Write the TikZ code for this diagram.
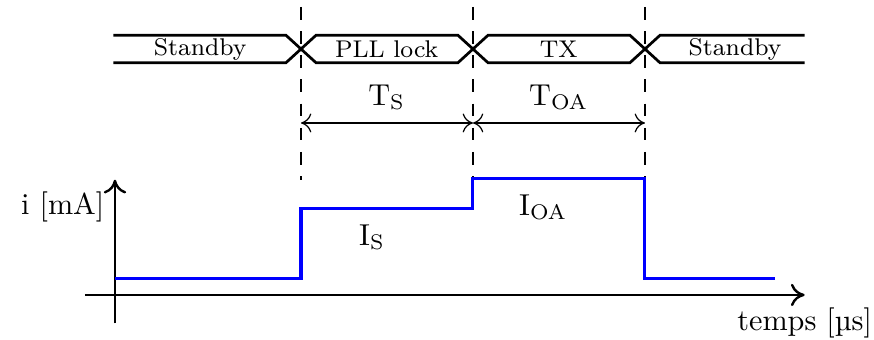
\documentclass[tikz,border=0pt]{standalone}
\usetikzlibrary{arrows.meta,positioning}

\begin{document}
\begin{tikzpicture}[
    axis/.style={thick, -{To[length=1.6mm,width=2.6mm]}},
    bus/.style={line width=0.9pt},
    marker/.style={thin, dash pattern=on 4.2pt off 3.8pt},
    dim/.style={thin, {To[length=1.2mm,width=2.2mm]}-{To[length=1.2mm,width=2.2mm]}},
    current/.style={blue, line width=1pt},
    state/.style={font=\footnotesize, inner sep=1pt}
]
\useasboundingbox (-1.337,-0.523) rectangle (8.826,3.430);

% instants
\coordinate (t1) at (2.163,0);
\coordinate (t2) at (4.163,0);
\coordinate (t3) at (6.163,0);

% bus of states
\draw[bus] (-0.02,3.02) -- (1.988,3.02) -- (2.338,2.70) -- (3.988,2.70) -- (4.338,3.02)
    -- (5.988,3.02) -- (6.338,2.70) -- (8.02,2.70);
\draw[bus] (-0.02,2.70) -- (1.988,2.70) -- (2.338,3.02) -- (3.988,3.02) -- (4.338,2.70)
    -- (5.988,2.70) -- (6.338,3.02) -- (8.02,3.02);
\node[state] (sb1) at (0.99,2.86) {Standby};
\node[state] (pll) at (3.16,2.86) {PLL lock};
\node[state] (tx) at (5.16,2.86) {TX};
\node[state] (sb2) at (7.21,2.86) {Standby};

% markers
\foreach \t in {t1,t2,t3}
    \draw[marker] (\t) ++(0,3.35) -- ++(0,-2.01);

% durations
\draw[dim] ([yshift=2cm]t1) -- ([yshift=2cm]t2);
\draw[dim] ([yshift=2cm]t2) -- ([yshift=2cm]t3);
\node (ts) at (3.16,2.30) {$\mathrm{T_S}$};
\node (toa) at (5.16,2.30) {$\mathrm{T_{OA}}$};

% axes
\draw[axis] (-0.35,0) -- (8.02,0) node[below, inner sep=4pt] (xlab) {temps [µs]};
\draw[axis] (0,-0.33) -- (0,1.34);
\node[left=0.0cm of {(0,1.02)}] (ylab) {i [mA]};

% current
\draw[current] (0,0.19) -- (t1 |- 0,0.19) -- ([yshift=1.01cm]t1) -- ([yshift=1.01cm]t2)
    -- ([yshift=1.35cm]t2) -- ([yshift=1.35cm]t3) -- ([yshift=0.19cm]t3) -- (7.67,0.19);
\node (is) at (2.99,0.67) {$\mathrm{I_S}$};
\node (ioa) at (4.98,1.02) {$\mathrm{I_{OA}}$};
\end{tikzpicture}
\end{document}
